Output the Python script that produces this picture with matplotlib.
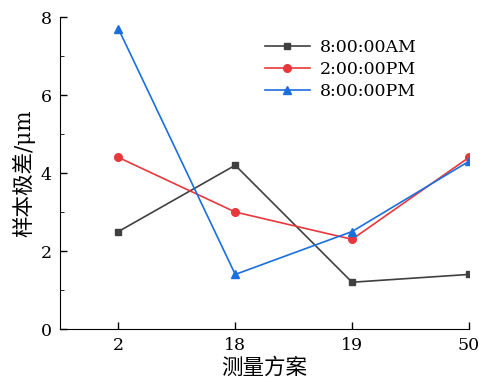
import matplotlib
matplotlib.use("Agg")
import matplotlib.pyplot as plt
from matplotlib.ticker import MultipleLocator

plt.rcParams['font.family'] = ['DejaVu Serif', 'Noto Sans CJK SC']

categories = ['2', '18', '19', '50']
am8 = [2.5, 4.2, 1.2, 1.4]
pm2 = [4.4, 3.0, 2.3, 4.4]
pm8 = [7.7, 1.4, 2.5, 4.3]
series_labels = ['8:00:00AM', '2:00:00PM', '8:00:00PM']

fig = plt.figure(figsize=(4.92, 3.88), dpi=100)
ax = fig.add_axes([0.122, 0.152, 0.831, 0.804])
x = list(range(len(categories)))
ax.plot(x, am8, color='#404040', marker='s', markersize=5, lw=1.2, label=series_labels[0])
ax.plot(x, pm2, color='#e8383d', marker='o', markersize=5.5, lw=1.2, label=series_labels[1])
ax.plot(x, pm8, color='#1a6fdf', marker='^', markersize=6, lw=1.2, label=series_labels[2])

ax.set_xlim(-0.5, 3)
ax.set_ylim(0, 8)
ax.set_xticks(x)
ax.set_xticklabels(categories)
ax.yaxis.set_major_locator(MultipleLocator(2))
ax.yaxis.set_minor_locator(MultipleLocator(1))
for s in ['top', 'right']:
    ax.spines[s].set_visible(False)
ax.tick_params(direction='in', labelsize=12.5, length=5, width=1, pad=6)
ax.tick_params(which='minor', direction='in', length=3)
ax.set_xlabel('测量方案', fontsize=15.5, labelpad=2)
ax.set_ylabel('样本极差/μm', fontsize=15.5, labelpad=4)
ax.legend(loc='upper left', bbox_to_anchor=(0.462, 0.98), frameon=False, fontsize=12.5,
          handlelength=2.6, handletextpad=0.6, labelspacing=0.3)
fig.savefig('out.png', dpi=100)
